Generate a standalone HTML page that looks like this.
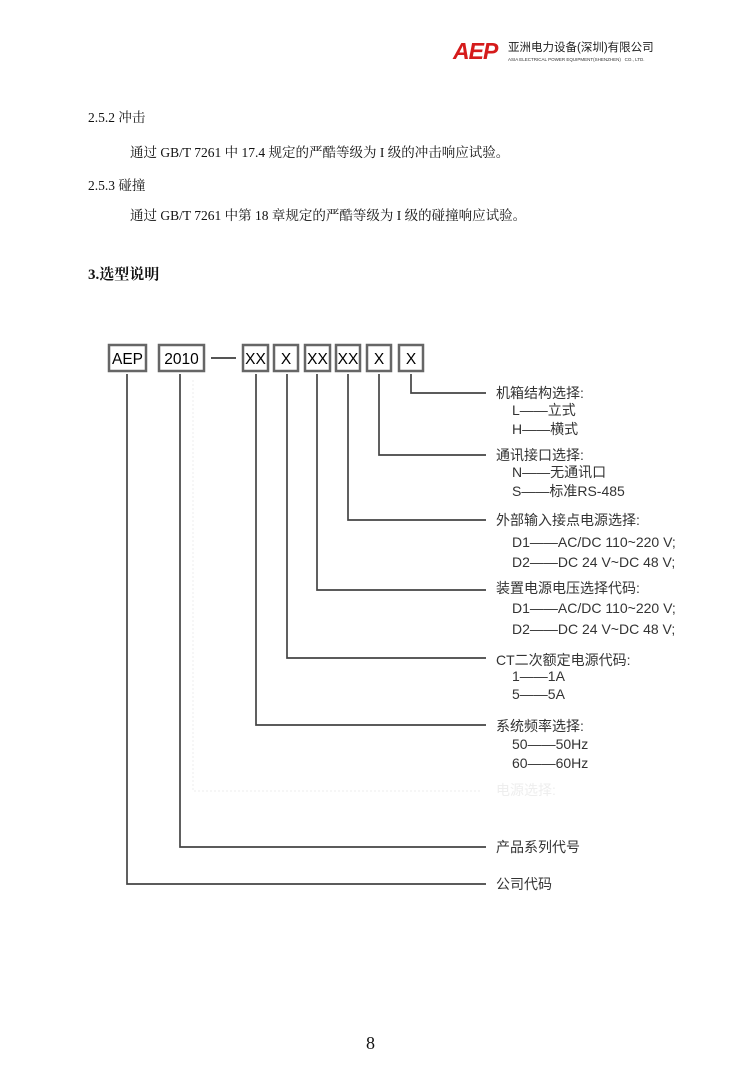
<!DOCTYPE html>
<html><head><meta charset="utf-8"><style>
body{margin:0;background:#fff}
#p{position:relative;width:750px;height:1069px;overflow:hidden;background:#fff;font-family:"Liberation Serif","Noto Serif CJK SC",serif;color:#111}
.t{position:absolute;white-space:nowrap;line-height:1}
.s{font-family:"Liberation Sans","Noto Sans CJK SC",sans-serif;font-size:14px;color:#333}
</style></head><body><div id="p">
<div class="t" style="left:453px;top:40px;font-family:'Liberation Sans',sans-serif;font-weight:bold;font-style:italic;font-size:23px;color:#d51b1b;letter-spacing:-1px">AEP</div>
<div class="t s" style="left:508px;top:43px;font-size:11.5px;color:#222">亚洲电力设备(深圳)有限公司</div>
<div class="t" style="left:508px;top:58px;font-family:'Liberation Sans',sans-serif;font-size:4.5px;color:#333">ASIA ELECTRICAL POWER EQUIPMENT(SHENZHEN) &nbsp; CO., LTD.</div>

<div class="t" style="left:88px;top:111px;font-size:13.5px">2.5.2 冲击</div>
<div class="t" style="left:130px;top:146px;font-size:13.5px">通过 GB/T 7261 中 17.4 规定的严酷等级为 I 级的冲击响应试验。</div>
<div class="t" style="left:88px;top:179px;font-size:13.5px">2.5.3 碰撞</div>
<div class="t" style="left:130px;top:209px;font-size:13.5px">通过 GB/T 7261 中第 18 章规定的严酷等级为 I 级的碰撞响应试验。</div>
<div class="t" style="left:88px;top:268px;font-size:15px;font-weight:bold">3.选型说明</div>

<svg style="position:absolute;left:0;top:0" width="750" height="1069">
<g fill="#fff" stroke="#666" stroke-width="2.5">
<rect x="109" y="345" width="37" height="26"/><rect x="159" y="345" width="45" height="26"/>
<rect x="243" y="345" width="25" height="26"/><rect x="274" y="345" width="24" height="26"/>
<rect x="305" y="345" width="25" height="26"/><rect x="336" y="345" width="24" height="26"/>
<rect x="367" y="345" width="24" height="26"/><rect x="399" y="345" width="24" height="26"/>
</g>
<g font-family="Liberation Sans,sans-serif" font-size="15.5" fill="#000" text-anchor="middle">
<text x="127.5" y="364">AEP</text><text x="181.5" y="364">2010</text>
<text x="255.5" y="364">XX</text><text x="286" y="364">X</text><text x="317.5" y="364">XX</text>
<text x="348" y="364">XX</text><text x="379" y="364">X</text><text x="411" y="364">X</text>
</g>
<line x1="211" y1="358" x2="236" y2="358" stroke="#555" stroke-width="2"/>
<g fill="none" stroke="#444" stroke-width="1.7">
<polyline points="411,374 411,393 486,393"/>
<polyline points="379,374 379,455 486,455"/>
<polyline points="348,374 348,520 486,520"/>
<polyline points="317,374 317,590 486,590"/>
<polyline points="287,374 287,658 486,658"/>
<polyline points="256,374 256,725 486,725"/>
<polyline points="180,374 180,847 486,847"/>
<polyline points="127,374 127,884 486,884"/>
</g>
<polyline points="193,380 193,791 480,791" fill="none" stroke="#eee" stroke-width="1" stroke-dasharray="2,2"/>
</svg>

<div class="t s" style="left:496px;top:386px">机箱结构选择:</div>
<div class="t s" style="left:512px;top:403px">L——立式</div>
<div class="t s" style="left:512px;top:422px">H——横式</div>
<div class="t s" style="left:496px;top:448px">通讯接口选择:</div>
<div class="t s" style="left:512px;top:465px">N——无通讯口</div>
<div class="t s" style="left:512px;top:484px">S——标准RS-485</div>
<div class="t s" style="left:496px;top:513px">外部输入接点电源选择:</div>
<div class="t s" style="left:512px;top:535px">D1——AC/DC 110~220 V;</div>
<div class="t s" style="left:512px;top:555px">D2——DC 24 V~DC 48 V;</div>
<div class="t s" style="left:496px;top:581px">装置电源电压选择代码:</div>
<div class="t s" style="left:512px;top:601px">D1——AC/DC 110~220 V;</div>
<div class="t s" style="left:512px;top:622px">D2——DC 24 V~DC 48 V;</div>
<div class="t s" style="left:496px;top:653px">CT二次额定电源代码:</div>
<div class="t s" style="left:512px;top:669px">1——1A</div>
<div class="t s" style="left:512px;top:687px">5——5A</div>
<div class="t s" style="left:496px;top:719px">系统频率选择:</div>
<div class="t s" style="left:512px;top:737px">50——50Hz</div>
<div class="t s" style="left:512px;top:756px">60——60Hz</div>
<div class="t s" style="left:496px;top:783px;color:#eee">电源选择:</div>
<div class="t s" style="left:496px;top:840px">产品系列代号</div>
<div class="t s" style="left:496px;top:877px">公司代码</div>

<div class="t" style="left:366px;top:1034px;font-size:18px">8</div>
</div></body></html>
